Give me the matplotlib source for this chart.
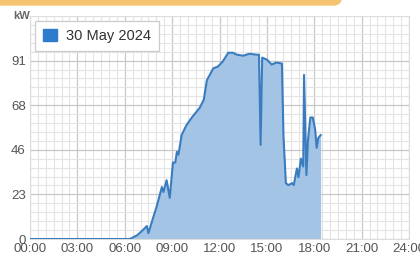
import matplotlib
matplotlib.use("Agg")
import matplotlib.pyplot as plt
from matplotlib.patches import Patch, FancyBboxPatch
from matplotlib.ticker import MultipleLocator, FixedLocator

# power readings, hours since midnight -> kW
hours = [0.0, 3.0, 6.0, 6.3, 6.45, 6.8, 7.15, 7.4, 7.5, 7.8, 8.0, 8.35, 8.45, 8.65,
         8.85, 9.05, 9.2, 9.3, 9.4, 9.6, 9.9, 10.25, 10.75, 11.0, 11.2, 11.6, 11.9,
         12.2, 12.55, 12.85, 13.1, 13.5, 13.9, 14.35, 14.5, 14.6, 14.7, 15.0, 15.3,
         15.6, 15.95, 16.05, 16.2, 16.35, 16.6, 16.7, 16.9, 17.0, 17.15, 17.3, 17.35,
         17.5, 17.6, 17.75, 17.9, 18.05, 18.15, 18.25, 18.4]
kw = [0, 0, 0, 0, 0.5, 2, 4.6, 6.6, 3, 11, 16, 26.5, 24, 30,
      21, 39, 39, 44.5, 43, 53, 58, 62, 67, 71, 81, 87, 88,
      90.5, 95, 95, 94, 93.5, 94.5, 94, 94, 48, 92.5, 91.5, 89,
      90, 89.5, 52, 28.5, 27.5, 28.5, 27.5, 36, 31.5, 41, 37, 83.7,
      32.6, 50.5, 62, 62, 56, 46.5, 51.5, 53]

series_label = "30 May 2024"
x_ticks = [0, 3, 6, 9, 12, 15, 18, 21, 24]
x_labels = ["00:00", "03:00", "06:00", "09:00", "12:00", "15:00", "18:00", "21:00", "24:00"]
y_step = 22.75
y_labels = ["0", "23", "46", "68", "91"]

plt.rcParams["font.family"] = ["Liberation Sans", "DejaVu Sans"]

fig = plt.figure(figsize=(4.2, 2.58), dpi=100)
fig.patch.set_facecolor("white")

# cropped orange banner along the top edge
fig.patches.append(FancyBboxPatch((-0.05, 0.978), 0.865, 0.08, boxstyle="round,pad=0,rounding_size=0.02",
                                  transform=fig.transFigure, facecolor="#f6c470", edgecolor="none",
                                  mutation_aspect=2.0))

ax = fig.add_axes([0.0714, 0.0736, 0.9026, 0.8644])

line_c = "#3a7cc0"
ax.fill_between(hours, kw, 0, color="#a3c4e4", linewidth=0, zorder=2)
ax.plot(hours, kw, color=line_c, linewidth=1.5, zorder=3)

ax.set_xlim(0, 24)
ax.set_ylim(0, 5 * y_step)
ax.xaxis.set_major_locator(FixedLocator(x_ticks))
ax.set_xticklabels(x_labels)
ax.xaxis.set_minor_locator(MultipleLocator(0.5))
ax.yaxis.set_major_locator(FixedLocator([i * y_step for i in range(len(y_labels))]))
ax.set_yticklabels(y_labels)
ax.yaxis.set_minor_locator(MultipleLocator(y_step / 5))

ax.grid(which="major", color="#c8c8c8", linewidth=0.9, zorder=1)
ax.grid(which="minor", color="#e4e4e4", linewidth=0.8, zorder=1)
ax.set_axisbelow(True)
ax.tick_params(which="both", length=0, labelsize=9.5, labelcolor="#555555", pad=3)
for s in ax.spines.values():
    s.set_color("#dddddd")
    s.set_linewidth(0.8)

fig.text(0.031, 0.925, "kW", fontsize=8, color="#666666", fontweight="bold")

leg = ax.legend(handles=[Patch(facecolor="#2f7ccc", edgecolor="#2f7ccc", label=series_label)],
                loc="upper left", fontsize=10.5, handlelength=0.95, handleheight=0.85,
                borderaxespad=0.35, borderpad=0.55, handletextpad=0.65,
                fancybox=False, framealpha=1)
leg.get_frame().set_edgecolor("#cccccc")
leg.get_frame().set_linewidth(0.9)
for t in leg.get_texts():
    t.set_color("#333333")

fig.savefig("out.png", dpi=100)
